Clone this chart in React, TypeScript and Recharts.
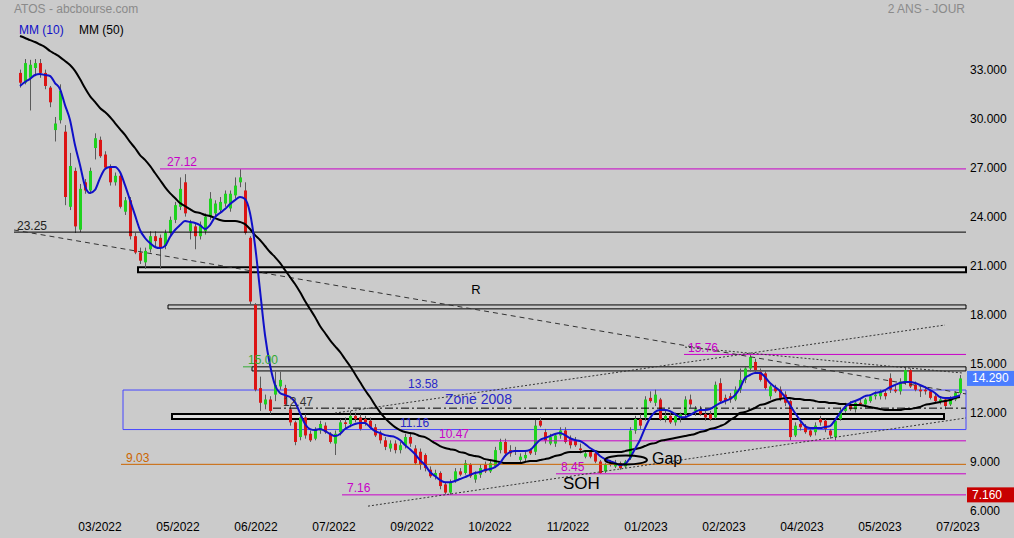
import React from "react";
import {
  Bar,
  ComposedChart,
  Line,
  ReferenceArea,
  ReferenceDot,
  ReferenceLine,
  XAxis,
  YAxis,
} from "recharts";

// daily candles, sampled from the chart: [open, high, low, close]
const ohlc: [number, number, number, number][] = [
  [33.0, 33.2, 32.1, 32.4], [32.4, 33.85, 32.3, 33.6], [32.7, 33.8, 30.7, 33.5], [33.3, 33.85, 32.8, 33.6],
  [33.6, 33.85, 32.7, 33.0], [33.0, 33.2, 32.0, 32.2], [32.1, 32.2, 30.9, 31.2], [29.5, 30.3, 28.8, 29.9],
  [30.1, 32.3, 29.9, 31.9], [29.4, 29.8, 24.9, 25.4], [24.8, 28.1, 24.6, 27.3], [27.0, 27.2, 23.2, 23.6],
  [23.4, 26.2, 23.25, 25.9], [26.3, 26.5, 25.6, 25.8], [25.8, 27.2, 25.6, 27.0], [28.4, 29.3, 27.7, 29.0],
  [28.9, 29.1, 27.8, 27.9], [28.0, 28.2, 27.1, 27.2], [27.2, 27.4, 26.1, 26.3], [26.3, 26.9, 26.1, 26.7],
  [26.7, 26.9, 24.7, 24.8], [24.5, 25.4, 24.3, 25.2], [25.2, 25.4, 22.8, 23.0], [23.0, 23.2, 21.9, 22.0],
  [22.0, 22.3, 21.3, 21.5], [21.4, 22.3, 21.0, 22.1], [22.2, 23.3, 22.0, 23.0], [23.0, 23.3, 22.3, 22.7],
  [22.9, 23.1, 21.0, 22.3], [22.4, 23.4, 22.2, 23.2], [23.2, 24.2, 23.0, 24.0], [24.0, 25.1, 23.8, 24.9],
  [24.8, 26.6, 24.6, 25.9], [26.3, 26.8, 24.2, 24.4], [23.3, 24.0, 22.8, 23.8], [23.6, 23.8, 22.2, 23.0],
  [23.0, 23.9, 22.8, 23.7], [23.3, 24.4, 23.1, 24.2], [24.2, 25.7, 24.0, 25.3], [24.4, 25.2, 24.1, 25.0],
  [24.6, 25.4, 24.4, 25.1], [25.0, 25.8, 24.8, 25.6], [24.7, 25.8, 24.5, 25.6], [25.5, 26.6, 25.3, 26.1],
  [26.3, 27.1, 26.0, 26.6], [25.8, 26.3, 23.1, 23.2], [22.9, 23.0, 18.8, 19.0], [18.8, 18.9, 13.5, 13.6],
  [13.7, 14.4, 12.3, 12.8], [12.7, 13.3, 12.4, 13.0], [13.0, 13.2, 12.1, 12.3], [13.3, 14.7, 12.9, 13.9],
  [13.8, 14.7, 13.6, 14.2], [13.7, 13.9, 12.6, 12.7], [12.4, 12.6, 11.4, 11.6], [11.6, 11.7, 10.2, 10.4],
  [10.7, 12.1, 10.5, 11.9], [11.9, 12.1, 10.6, 10.8], [10.9, 11.1, 10.4, 10.5], [10.6, 11.3, 10.5, 11.2],
  [11.1, 11.7, 10.9, 11.5], [11.4, 11.6, 10.9, 11.0], [10.9, 11.0, 10.3, 10.4], [10.3, 11.1, 9.6, 10.9],
  [11.0, 11.8, 10.8, 11.6], [11.6, 11.9, 11.2, 11.5], [11.5, 12.3, 11.3, 12.0], [12.0, 12.2, 11.6, 11.8],
  [11.9, 12.1, 11.1, 11.2], [11.8, 12.0, 11.4, 11.6], [11.7, 11.9, 11.2, 11.3], [11.3, 11.5, 10.7, 10.8],
  [10.9, 11.1, 10.3, 10.5], [10.5, 10.7, 9.9, 10.1], [10.0, 10.5, 9.8, 10.3], [10.3, 10.5, 9.7, 9.9],
  [9.9, 10.4, 9.7, 10.2], [10.2, 10.9, 10.0, 10.7], [10.7, 10.9, 10.1, 10.3], [10.0, 10.2, 9.0, 9.1],
  [9.8, 10.0, 8.7, 9.0], [9.6, 9.7, 8.6, 8.8], [8.7, 8.9, 8.2, 8.3], [8.3, 8.7, 8.1, 8.5],
  [8.5, 8.6, 7.5, 7.7], [7.8, 7.9, 7.2, 7.3], [7.3, 8.1, 7.16, 7.9], [8.0, 8.8, 7.9, 8.6],
  [8.6, 8.8, 8.3, 8.4], [8.5, 9.3, 8.4, 9.1], [9.0, 9.1, 8.2, 8.3], [8.1, 8.6, 7.9, 8.4],
  [8.4, 9.0, 8.2, 8.8], [9.0, 9.2, 8.5, 8.6], [8.6, 9.3, 8.5, 9.1], [8.9, 10.1, 8.8, 9.9],
  [9.9, 10.6, 9.7, 10.4], [10.4, 10.6, 9.5, 9.7], [9.9, 10.2, 9.5, 9.7], [9.9, 10.1, 9.6, 9.8],
  [9.3, 9.7, 9.1, 9.5], [9.4, 9.8, 9.2, 9.6], [9.9, 10.0, 9.6, 9.7], [9.8, 11.75, 9.6, 11.4],
  [11.7, 11.9, 11.3, 11.4], [11.0, 11.2, 10.3, 10.5], [10.3, 10.9, 10.2, 10.7], [10.3, 10.9, 10.1, 10.8],
  [10.8, 11.3, 10.6, 11.1], [11.1, 11.3, 10.3, 10.4], [10.6, 10.8, 10.0, 10.2], [10.5, 10.7, 10.1, 10.2],
  [10.0, 10.3, 9.7, 9.9], [9.5, 9.9, 9.4, 9.7], [9.8, 9.9, 9.4, 9.5], [9.7, 9.8, 9.1, 9.2],
  [9.2, 9.3, 8.45, 8.5], [8.6, 9.1, 8.5, 9.0], [9.1, 9.3, 8.9, 9.0], [8.9, 9.3, 8.8, 9.1],
  [9.1, 9.2, 8.7, 8.8], [8.9, 9.3, 8.8, 9.2], [9.4, 11.3, 9.3, 11.1], [11.1, 12.0, 10.9, 11.8],
  [11.8, 12.1, 11.2, 11.4], [11.9, 13.2, 11.7, 13.0], [13.1, 13.5, 12.8, 12.9], [12.8, 13.6, 12.6, 13.3],
  [13.0, 13.1, 11.7, 11.8], [11.8, 12.3, 11.6, 12.0], [12.0, 12.2, 11.5, 11.6], [11.6, 12.2, 11.4, 12.0],
  [11.9, 12.2, 11.6, 12.1], [12.1, 13.2, 11.9, 13.0], [13.0, 13.3, 12.5, 12.7], [12.3, 12.6, 12.0, 12.4],
  [12.4, 12.6, 12.0, 12.1], [12.1, 12.3, 11.7, 11.9], [12.1, 12.3, 11.7, 11.8], [11.9, 14.1, 11.8, 13.9],
  [14.0, 14.3, 12.8, 12.9], [13.1, 13.3, 12.7, 12.9], [13.2, 13.4, 12.8, 13.0], [13.0, 13.8, 12.9, 13.6],
  [13.6, 14.9, 13.4, 14.2], [14.2, 15.0, 14.0, 14.9], [14.9, 15.76, 14.7, 15.6], [15.3, 15.5, 14.6, 14.8],
  [14.7, 14.9, 14.1, 14.2], [14.6, 14.8, 13.6, 13.7], [13.2, 13.9, 13.0, 13.8], [13.7, 13.9, 13.4, 13.5],
  [13.6, 13.8, 12.9, 13.1], [13.3, 13.5, 12.6, 12.8], [12.9, 13.0, 10.5, 10.7], [10.8, 11.6, 10.7, 11.4],
  [11.5, 11.7, 11.1, 11.3], [11.3, 11.5, 10.9, 11.0], [11.1, 11.3, 10.7, 10.8], [11.0, 11.6, 10.8, 11.4],
  [11.8, 12.0, 11.4, 11.6], [11.7, 11.8, 11.0, 11.2], [11.1, 11.2, 10.6, 10.8], [10.7, 11.8, 10.5, 11.7],
  [11.8, 12.5, 11.7, 12.3], [12.3, 12.8, 12.2, 12.6], [12.7, 12.9, 12.3, 12.4], [12.4, 12.9, 12.2, 12.8],
  [12.8, 13.0, 12.6, 12.7], [12.7, 13.1, 12.5, 13.0], [12.9, 13.3, 12.8, 13.2], [13.2, 13.5, 13.0, 13.3],
  [13.2, 13.6, 13.0, 13.5], [13.4, 13.6, 13.0, 13.2], [14.3, 14.6, 13.4, 13.6], [13.6, 13.9, 13.4, 13.5],
  [13.5, 14.3, 13.3, 14.1], [14.1, 15.0, 13.9, 14.8], [14.8, 14.9, 13.7, 13.8], [13.9, 14.1, 13.5, 13.6],
  [13.6, 13.8, 13.15, 13.5], [13.6, 13.8, 13.3, 13.5], [13.5, 13.6, 13.0, 13.1], [13.2, 13.4, 12.8, 12.9],
  [12.9, 13.2, 12.7, 13.0], [13.0, 13.1, 12.4, 12.6], [12.7, 13.2, 12.6, 13.0], [13.0, 13.5, 12.9, 13.4],
  [13.4, 14.5, 13.3, 14.29],
];

const ma10 = [
  32.2, 32.44, 32.63, 32.87, 32.93, 32.87, 32.81, 32.38,
  32.01, 31.03, 30.12, 28.58, 27.36, 26.07, 25.64, 25.83,
  26.56, 27.11, 27.24, 27.24, 26.93, 26.13, 25.21, 24.29,
  23.38, 22.89, 22.58, 22.34, 22.27, 22.4, 22.95, 23.38,
  23.68, 23.93, 23.87, 23.81, 23.68, 23.44, 23.68, 24.17,
  24.42, 24.66, 24.97, 25.21, 25.4, 25.28, 24.42, 22.46,
  19.7, 16.95, 15.11, 13.89, 13.4, 13.27, 13.15, 12.84,
  12.17, 11.5, 11.19, 11.13, 11.19, 11.07, 10.89, 10.76,
  10.89, 11.19, 11.37, 11.5, 11.56, 11.56, 11.31, 11.07,
  10.95, 10.82, 10.76, 10.7, 10.52, 10.21, 9.96, 9.66,
  9.29, 8.99, 8.56, 8.31, 8.07, 7.94, 7.94, 8.01,
  8.13, 8.25, 8.38, 8.5, 8.56, 8.68, 8.74, 8.86,
  9.11, 9.54, 9.78, 9.84, 9.84, 9.84, 9.91, 10.21,
  10.52, 10.64, 10.76, 10.89, 10.95, 10.82, 10.64, 10.52,
  10.46, 10.27, 10.03, 9.84, 9.54, 9.35, 9.23, 9.11,
  8.99, 9.05, 9.42, 9.97, 10.52, 11.25, 11.86, 12.23,
  12.36, 12.36, 12.29, 12.11, 11.92, 11.92, 12.05, 12.23,
  12.36, 12.36, 12.42, 12.6, 12.78, 12.91, 13.03, 13.27,
  13.7, 14.31, 14.5, 14.62, 14.62, 14.38, 14.01, 13.76,
  13.52, 13.15, 12.66, 12.17, 11.74, 11.37, 11.25, 11.25,
  11.25, 11.31, 11.37, 11.74, 12.17, 12.54, 12.78, 12.91,
  13.03, 13.21, 13.27, 13.4, 13.46, 13.58, 13.76, 13.89,
  14.01, 14.07, 14.07, 14.01, 13.89, 13.76, 13.58, 13.4,
  13.15, 13.09, 13.09, 13.15, 13.27,
];

const ma50 = [
  35.26, 35.14, 35.01, 34.89, 34.74, 34.58, 34.34, 34.16,
  33.97, 33.73, 33.48, 33.12, 32.62, 32.07, 31.58, 31.22,
  30.85, 30.6, 30.3, 29.93, 29.56, 29.2, 28.77, 28.4,
  27.97, 27.67, 27.3, 26.87, 26.44, 26.01, 25.64, 25.34,
  25.03, 24.85, 24.66, 24.48, 24.42, 24.3, 24.24, 24.11,
  23.99, 23.93, 23.93, 23.93, 23.87, 23.74, 23.44, 23.07,
  22.77, 22.4, 22.03, 21.72, 21.36, 20.93, 20.5, 20.07,
  19.58, 19.03, 18.54, 18.05, 17.5, 17.07, 16.64, 16.27,
  15.91, 15.48, 15.05, 14.56, 14.07, 13.58, 13.15, 12.66,
  12.23, 11.86, 11.56, 11.31, 11.13, 11.01, 10.95, 10.89,
  10.76, 10.7, 10.52, 10.33, 10.15, 10.03, 9.96, 9.91,
  9.78, 9.72, 9.6, 9.54, 9.48, 9.35, 9.29, 9.23,
  9.17, 9.11, 9.11, 9.11, 9.11, 9.17, 9.23, 9.23,
  9.29, 9.35, 9.42, 9.54, 9.6, 9.72, 9.78, 9.78,
  9.78, 9.84, 9.84, 9.84, 9.78, 9.78, 9.78, 9.78,
  9.78, 9.84, 9.91, 9.97, 10.03, 10.15, 10.27, 10.33,
  10.46, 10.52, 10.58, 10.64, 10.7, 10.76, 10.82, 10.89,
  11.01, 11.07, 11.19, 11.25, 11.37, 11.5, 11.74, 11.92,
  12.17, 12.23, 12.36, 12.48, 12.67, 12.72, 12.85, 12.97,
  13.03, 13.09, 13.09, 13.03, 13.03, 12.97, 12.97, 12.91,
  12.85, 12.85, 12.78, 12.78, 12.72, 12.72, 12.67, 12.67,
  12.67, 12.6, 12.54, 12.48, 12.42, 12.36, 12.36, 12.36,
  12.36, 12.42, 12.42, 12.48, 12.54, 12.67, 12.72, 12.78,
  12.85, 12.91, 12.97, 13.09, 13.15,
];

const monthLabels = [
  "03/2022", "05/2022", "06/2022", "07/2022", "09/2022", "10/2022",
  "11/2022", "01/2023", "02/2023", "04/2023", "05/2023", "07/2023",
];
const priceTicks = [6, 9, 12, 15, 18, 21, 24, 27, 30, 33];

// support / resistance levels: price, first day index, colour, dash
const levels = [
  { v: 27.12, from: 28, color: "#c800c8", label: "27.12" },
  { v: 23.25, from: -1.2, color: "#000000", label: "23.25" },
  { v: 15.76, from: 132.8, color: "#c800c8", label: "15.76" },
  { v: 12.47, from: 50.6, color: "#000000", label: "12.47", dash: "8 3 2 3" },
  { v: 10.47, from: 82.6, color: "#c800c8", label: "10.47" },
  { v: 9.03, from: 20.2, color: "#cc6600", label: "9.03" },
  { v: 8.45, from: 107.2, color: "#c800c8", label: "8.45" },
  { v: 7.16, from: 64.4, color: "#c800c8", label: "7.16" },
];

// price bands drawn as boxes: low, high, first day, last day
const bands = [
  { lo: 20.8, hi: 21.1, from: 23.6, to: 189.2, thick: true },
  { lo: 18.55, hi: 18.79, from: 29.6, to: 189.2, thick: false },
  { lo: 14.75, hi: 15.0, from: 46.4, to: 189.2, thick: false },
  { lo: 11.81, hi: 12.11, from: 30.4, to: 184.8, thick: true },
];

// trend lines: [day, price] -> [day, price]
const trends = [
  { a: [-1.2, 23.38], b: [189.2, 13.34], dash: "5 4" },
  { a: [63, 12.17], b: [185, 17.56], dash: "2 2" },
  { a: [69.6, 6.47], b: [189.2, 11.87], dash: "2 2" },
  { a: [133, 16.21], b: [188.6, 14.62], dash: "2 2" },
];

const GREEN = "#1ed21e";
const RED = "#dc1414";
const MAGENTA = "#c800c8";
const ZONE_BLUE = "#4646ff";
const LABEL_BLUE = "#2828c8";
const X_END = 189.2;

const rows = ohlc.map(([o, h, l, c], i) => ({ i, o, h, l, c, ma10: ma10[i], ma50: ma50[i] }));

function Candle(props: any) {
  const { x, y, width, height, payload } = props;
  if (!payload || x == null) return null;
  const top = Math.min(y, y + height);
  const span = Math.abs(height);
  const { o, h, l, c } = payload;
  const k = h > l ? span / (h - l) : 0;
  const yo = top + (h - o) * k;
  const yc = top + (h - c) * k;
  const bodyTop = Math.min(yo, yc);
  const bodyH = Math.max(1, Math.abs(yo - yc));
  const fill = Math.abs(c - o) < 0.03 ? "#8c8c8c" : c > o ? GREEN : RED;
  const cx = Math.round(x + width / 2) + 0.5;
  return (
    <g>
      <line x1={cx} x2={cx} y1={top} y2={top + span} stroke="#5a5a5a" strokeWidth={1} />
      <rect x={cx - 1.5} y={bodyTop} width={3} height={bodyH} fill={fill} />
    </g>
  );
}

const noteShape = (text: string, color: string, size = 12, dy = -6.5, anchor = "start") =>
  (p: any) => (
    <text x={p.cx} y={p.cy + dy} fill={color} fontSize={size} textAnchor={anchor} dominantBaseline="central">
      {text}
    </text>
  );

const badgeShape = (text: string, bg: string) => (p: any) => (
  <g>
    <rect x={p.cx + 1} y={p.cy - 7.5} width={48} height={15} fill={bg} />
    <text x={p.cx + 6} y={p.cy} fill="#ffffff" fontSize={12} dominantBaseline="central">
      {text}
    </text>
  </g>
);

const ellipseShape = (p: any) => (
  <ellipse cx={p.cx} cy={p.cy} rx={21} ry={4.5} fill="none" stroke="#000" strokeWidth={2} />
);

const PriceTick = ({ x, y, payload }: any) => (
  <text x={x} y={y - 2.5} fontSize={12} fill="#000" dominantBaseline="central">
    {Number(payload.value).toFixed(3)}
  </text>
);

const DateTick = ({ x, y, index }: any) => (
  <text x={x} y={y + 11} fontSize={12} fill="#000" textAnchor="middle" dominantBaseline="central">
    {monthLabels[index]}
  </text>
);

export default function App() {
  const dateTicks = monthLabels.map((_, k) => 16 + 15.6 * k);
  return (
    <div
      style={{
        position: "absolute",
        left: 0,
        top: 0,
        width: 1014,
        height: 538,
        background: "#cbcbcb",
        fontFamily: "'Liberation Sans', Arial, sans-serif",
      }}
    >
      <ComposedChart width={1014} height={538} data={rows} margin={{ top: 0, right: 0, bottom: 0, left: 0 }}>
        <XAxis
          dataKey="i"
          type="number"
          domain={[-4, X_END]}
          allowDataOverflow
          ticks={dateTicks}
          tick={<DateTick />}
          tickLine={false}
          axisLine={false}
          tickSize={0}
          tickMargin={0}
          height={22}
        />
        <YAxis
          orientation="right"
          type="number"
          domain={[5.866, 37.464]}
          allowDataOverflow
          ticks={priceTicks}
          tick={<PriceTick />}
          tickLine={false}
          axisLine={false}
          tickSize={0}
          tickMargin={4}
          width={48}
        />

        <ReferenceArea x1={20.6} x2={X_END} y1={11.16} y2={13.58} stroke={ZONE_BLUE} strokeWidth={1} fill="none" ifOverflow="visible" />
        {bands.map((b, k) => (
          <ReferenceArea
            key={`b${k}`}
            x1={b.from}
            x2={b.to}
            y1={b.lo}
            y2={b.hi}
            stroke="#000"
            strokeWidth={b.thick ? 2 : 1}
            fill={b.thick ? "#dedede" : "none"}
            fillOpacity={1}
            ifOverflow="visible"
          />
        ))}
        {levels.map((lv, k) => (
          <ReferenceLine
            key={`l${k}`}
            segment={[{ x: lv.from, y: lv.v }, { x: X_END, y: lv.v }]}
            stroke={lv.color}
            strokeWidth={1}
            strokeDasharray={lv.dash}
            ifOverflow="visible"
          />
        ))}
        <ReferenceLine segment={[{ x: 44.6, y: 15 }, { x: 46.4, y: 15 }]} stroke="#33aa33" ifOverflow="visible" />
        {trends.map((t, k) => (
          <ReferenceLine
            key={`t${k}`}
            segment={[{ x: t.a[0], y: t.a[1] }, { x: t.b[0], y: t.b[1] }]}
            stroke="#333"
            strokeWidth={1}
            strokeDasharray={t.dash}
            ifOverflow="visible"
          />
        ))}

        <Bar dataKey={(d: any) => [d.l, d.h]} barSize={3} shape={<Candle />} isAnimationActive={false} />
        <Line dataKey="ma50" type="monotone" stroke="#000000" strokeWidth={2} dot={false} activeDot={false} isAnimationActive={false} />
        <Line dataKey="ma10" type="monotone" stroke="#1010c8" strokeWidth={2} dot={false} activeDot={false} isAnimationActive={false} />

        <ReferenceDot x={29.4} y={27.12} r={1} shape={noteShape("27.12", MAGENTA)} ifOverflow="visible" />
        <ReferenceDot x={-0.6} y={23.25} r={1} shape={noteShape("23.25", "#222")} ifOverflow="visible" />
        <ReferenceDot x={45.6} y={15.0} r={1} shape={noteShape("15.00", "#33aa33")} ifOverflow="visible" />
        <ReferenceDot x={77.6} y={13.58} r={1} shape={noteShape("13.58", LABEL_BLUE)} ifOverflow="visible" />
        <ReferenceDot x={76} y={11.16} r={1} shape={noteShape("11.16", LABEL_BLUE)} ifOverflow="visible" />
        <ReferenceDot x={52.6} y={12.47} r={1} shape={noteShape("12.47", "#333")} ifOverflow="visible" />
        <ReferenceDot x={83.8} y={10.47} r={1} shape={noteShape("10.47", MAGENTA)} ifOverflow="visible" />
        <ReferenceDot x={21.2} y={9.03} r={1} shape={noteShape("9.03", "#cc6600")} ifOverflow="visible" />
        <ReferenceDot x={108.2} y={8.45} r={1} shape={noteShape("8.45", MAGENTA)} ifOverflow="visible" />
        <ReferenceDot x={65.4} y={7.16} r={1} shape={noteShape("7.16", MAGENTA)} ifOverflow="visible" />
        <ReferenceDot x={133.6} y={15.76} r={1} shape={noteShape("15.76", MAGENTA)} ifOverflow="visible" />

        <ReferenceDot x={91.2} y={19.71} r={1} shape={noteShape("R", "#000", 13, 0, "middle")} ifOverflow="visible" />
        <ReferenceDot x={85} y={13.03} r={1} shape={noteShape("Zone 2008", LABEL_BLUE, 14, 0)} ifOverflow="visible" />
        <ReferenceDot x={108.6} y={7.83} r={1} shape={noteShape("SOH", "#000", 17, 0)} ifOverflow="visible" />
        <ReferenceDot x={126.4} y={9.36} r={1} shape={noteShape("Gap", "#000", 16, 0)} ifOverflow="visible" />
        <ReferenceDot x={121.2} y={9.3} r={1} shape={ellipseShape} ifOverflow="visible" />

        <ReferenceDot x={X_END} y={14.29} r={1} shape={badgeShape("14.290", "#4a7dff")} ifOverflow="visible" />
        <ReferenceDot x={X_END} y={7.16} r={1} shape={badgeShape("7.160", "#c80000")} ifOverflow="visible" />
      </ComposedChart>

      <div style={{ position: "absolute", left: 14, top: 2, fontSize: 12, color: "#8a8a8a" }}>ATOS - abcbourse.com</div>
      <div style={{ position: "absolute", right: 49, top: 2, fontSize: 12, color: "#8a8a8a" }}>2 ANS - JOUR</div>
      <div style={{ position: "absolute", left: 19, top: 23, fontSize: 12, color: "#1010c8" }}>MM (10)</div>
      <div style={{ position: "absolute", left: 79, top: 23, fontSize: 12, color: "#000" }}>MM (50)</div>
    </div>
  );
}
